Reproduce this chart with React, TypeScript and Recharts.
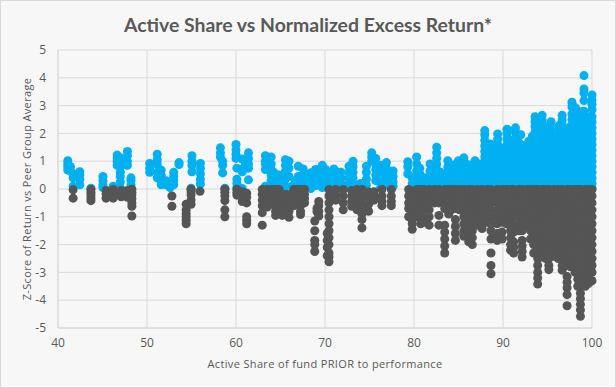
import { ScatterChart, Scatter, XAxis, YAxis, ZAxis, CartesianGrid } from "recharts";

// [active share, z-scores...]
const positiveColumns: number[][] = [
  [41.1, 1.02, 0.9, 0.8, 0.68],
  [41.4, 0.8, 0.65],
  [41.7, 0.55, 0.4, 0.1],
  [42.45, 0.62, 0.5, 0.35, 0.15],
  [43.7, 0.03],
  [45.05, 0.45, 0.3, 0.15, 0.05],
  [46.2, 0.1],
  [46.65, 1.22, 1.1, 1.0, 0.85],
  [47, 1.12, 0.95, 0.8, 0.6, 0.45, 0.25, 0.05],
  [47.8, 1.35, 1.2, 1.0, 0.85],
  [48.2, 0.4, 0.3, 0.15, 0.03],
  [50.3, 0.92, 0.75, 0.6],
  [51.15, 1.25, 1.05, 0.9, 0.6, 0.4],
  [51.6, 0.68, 0.5, 0.3, 0.15],
  [52.15, 0.3, 0.15],
  [52.6, 0.2, 0.05],
  [53, 0.6, 0.45, 0.3, 0.15],
  [53.6, 0.95, 0.88],
  [54.95, 0.03],
  [55.05, 1.2, 1.0, 0.85, 0.62],
  [56, 0.92, 0.75, 0.55, 0.35, 0.18],
  [58.25, 1.48, 1.3, 1.15],
  [58.5, 1.0, 0.85, 0.58],
  [58.75, 0.03],
  [60, 1.6, 1.4, 1.25, 1.1],
  [60.1, 0.75, 0.35, 0.2, 0.05],
  [60.7, 1.08, 0.72, 0.62, 0.02],
  [61.05, 0.92, 0.75],
  [61.4, 1.3, 1.1, 0.9, 0.75, 0.33],
  [63.3, 1.2, 1.0, 0.9, 0.7, 0.1],
  [63.95, 1.15, 0.9, 0.7, 0.5, 0.3, 0.1],
  [64.25, 0.6, 0.45, 0.3, 0.15],
  [64.8, 0.5, 0.35, 0.15],
  [65.2, 0.42, 0.25, 0.08],
  [65.55, 1.05, 0.85, 0.65, 0.5, 0.35, 0.1],
  [65.95, 1.0, 0.75, 0.45],
  [66.3, 0.1],
  [66.65, 0.3, 0.15, 0.05],
  [67, 0.82, 0.45, 0.3, 0.15, 0.05],
  [67.55, 0.72, 0.5, 0.35, 0.2],
  [68.4, 0.58, 0.35, 0.15, 0.02],
  [68.95, 0.7, 0.5, 0.3, 0.12],
  [69.7, 0.85, 0.65, 0.45, 0.25, 0.05],
  [70.05, 0.7, 0.5, 0.3, 0.1],
  [70.5, 0.58, 0.4, 0.2, 0.05],
  [71, 0.72, 0.5, 0.3, 0.1],
  [71.45, 0.6, 0.42, 0.2],
  [71.8, 0.6, 0.4, 0.2],
  [72.7, 0.82, 0.6, 0.4, 0.2, 0.05],
  [73.15, 1.0, 0.8, 0.6, 0.4, 0.2],
  [74, 0.2, 0.05],
  [74.65, 0.82, 0.6, 0.35, 0.15],
  [75.25, 1.3, 1.15, 1.0],
  [75.7, 1.1, 0.9, 0.7, 0.5, 0.3],
  [76.25, 0.85, 0.65, 0.45, 0.25, 0.05],
  [76.9, 0.95, 0.75, 0.55, 0.35, 0.15],
  [77.65, 0.65, 0.45, 0.25, 0.1],
  [79.3, 0.98, 0.8, 0.55],
  [79.8, 0.4, 0.2, 0.05],
  [80.3, 1.15, 0.9, 0.65, 0.45, 0.25, 0.05],
  [80.65, 0.75, 0.55, 0.35, 0.15],
  [81.2, 0.4, 0.2, 0.05],
  [81.8, 0.9, 0.65, 0.45, 0.25, 0.05],
  [82.55, 1.5, 1.3, 1.1, 0.9, 0.7, 0.5, 0.3, 0.1],
  [83, 0.6, 0.4, 0.2],
  [83.8, 1.02, 0.8, 0.6, 0.4, 0.2, 0.03],
  [84.2, 0.85, 0.65, 0.45, 0.25, 0.05],
  [84.65, 0.88, 0.65, 0.42, 0.2, 0.03],
  [85, 1.02, 0.8, 0.6, 0.4, 0.2],
  [85.6, 1.12, 0.9, 0.7, 0.5, 0.3, 0.1],
  [86, 0.88, 0.65, 0.45, 0.25, 0.05],
  [86.35, 0.85, 0.6, 0.4, 0.2],
  [86.85, 1.02, 0.8, 0.6, 0.4, 0.2, 0.03],
  [87.5, 0.9, 0.7, 0.5, 0.3, 0.1],
  [87.95, 2.1, 1.95, 1.75, 1.55, 1.35, 1.15, 0.95, 0.75, 0.55, 0.35, 0.15],
  [88.3, 1.55, 1.35, 1.15, 0.95, 0.75, 0.55, 0.35, 0.15],
  [88.6, 1.62, 1.4, 1.2, 1.0, 0.8, 0.6, 0.4, 0.2, 0.03],
  [89, 1.5, 1.3, 1.1, 0.9, 0.7, 0.5, 0.3, 0.1],
  [89.4, 1.98, 1.8, 1.6, 1.4, 1.2, 1.0, 0.8, 0.6, 0.4, 0.2, 0.03],
  [89.9, 1.45, 1.25, 1.05, 0.85, 0.65, 0.45, 0.25, 0.05],
  [90.45, 2.15, 2.0, 1.8, 1.6, 1.4, 1.2, 1.0, 0.8, 0.6, 0.4, 0.2],
  [90.9, 1.75, 1.55, 1.35, 1.15, 0.95, 0.75, 0.55, 0.35, 0.15],
  [91.4, 2.2, 2.05, 1.85, 1.65, 1.45, 1.25, 1.05, 0.85, 0.65, 0.45, 0.25, 0.05],
  [91.7, 1.9, 1.7, 1.5, 1.3, 1.1, 0.9, 0.7, 0.5, 0.3, 0.1],
  [92, 1.95, 1.6, 1.4, 1.2, 1.0, 0.8, 0.6, 0.4, 0.2, 0.03],
  [92.4, 1.55, 1.35, 1.15, 0.95, 0.75, 0.55, 0.35, 0.15],
  [92.9, 1.72, 1.5, 1.3, 1.1, 0.9, 0.7, 0.5, 0.3, 0.1],
  [93.3, 1.9, 1.7, 1.5, 1.3, 1.1, 0.9, 0.7, 0.5, 0.3, 0.1],
  [93.6, 2.6, 2.42, 2.25, 2.05, 1.85, 1.65, 1.45, 1.25, 1.05, 0.85, 0.65, 0.45, 0.25, 0.05],
  [94, 2.0, 1.8, 1.6, 1.4, 1.2, 1.0, 0.8, 0.6, 0.4, 0.2, 0.03],
  [94.4, 2.65, 2.48, 2.3, 2.1, 1.9, 1.7, 1.5, 1.3, 1.1, 0.9, 0.7, 0.5, 0.3, 0.1],
  [94.7, 2.2, 2.0, 1.8, 1.6, 1.4, 1.2, 1.0, 0.8, 0.6, 0.4, 0.2],
  [95, 2.25, 2.05, 1.85, 1.65, 1.45, 1.25, 1.05, 0.85, 0.65, 0.45, 0.25, 0.05],
  [95.4, 2.42, 2.2, 2.0, 1.8, 1.6, 1.4, 1.2, 1.0, 0.8, 0.6, 0.4, 0.2],
  [95.9, 1.85, 1.65, 1.45, 1.25, 1.05, 0.85, 0.65, 0.45, 0.25, 0.05],
  [96.3, 2.28, 2.1, 1.9, 1.7, 1.5, 1.3, 1.1, 0.9, 0.7, 0.5, 0.3, 0.1],
  [96.65, 2.65, 2.48, 2.3, 2.1, 1.9, 1.7, 1.5, 1.3, 1.1, 0.9, 0.7, 0.5, 0.3, 0.1],
  [97, 2.08, 1.85, 1.65, 1.45, 1.25, 1.05, 0.85, 0.65, 0.45, 0.25, 0.05],
  [97.4, 2.2, 2.0, 1.8, 1.6, 1.4, 1.2, 1.0, 0.8, 0.6, 0.4, 0.2],
  [97.75, 3.12, 2.95, 2.7, 2.5, 2.3, 2.1, 1.9, 1.7, 1.5, 1.3, 1.1, 0.9, 0.7, 0.5, 0.3, 0.1],
  [98.15, 2.92, 2.7, 2.5, 2.3, 2.1, 1.9, 1.7, 1.5, 1.3, 1.1, 0.9, 0.7, 0.5, 0.3, 0.1],
  [98.5, 2.4, 2.2, 2.0, 1.8, 1.6, 1.4, 1.2, 1.0, 0.8, 0.6, 0.4, 0.2],
  [98.85, 2.78, 2.6, 2.4, 2.2, 2.0, 1.8, 1.6, 1.4, 1.2, 1.0, 0.8, 0.6, 0.4, 0.2],
  [99.1, 4.08, 3.6, 3.45, 3.18, 2.8, 2.6, 2.4, 2.2, 2.0, 1.8, 1.6, 1.4, 1.2, 1.0, 0.8, 0.6, 0.4, 0.2],
  [99.45, 2.58, 2.4, 2.2, 2.0, 1.8, 1.6, 1.4, 1.2, 1.0, 0.8, 0.6, 0.4, 0.2],
  [99.7, 2.45, 2.25, 2.05, 1.85, 1.65, 1.45, 1.25, 1.05, 0.85, 0.65, 0.45, 0.25, 0.05],
  [100, 3.38, 3.2, 3.05, 2.85, 2.6, 2.4, 2.2, 2.0, 1.8, 1.6, 1.4, 1.2, 1.0, 0.8, 0.6, 0.4, 0.2, 0.03],
];

const negativeColumns: number[][] = [
  [41.7, -0.03, -0.33],
  [43.7, -0.02, -0.12, -0.22, -0.32, -0.42],
  [45.4, -0.05, -0.18, -0.33],
  [46.2, -0.02, -0.15, -0.33],
  [47.1, -0.05, -0.18, -0.28],
  [47.8, -0.05, -0.2, -0.3],
  [48.3, -0.01, -0.12, -0.22, -0.35, -0.5, -0.62, -0.97],
  [52.8, -0.25, -0.62],
  [54.4, -0.55, -0.75, -0.88, -1.0, -1.12, -1.25],
  [54.95, -0.01, -0.1, -0.22, -0.4, -0.55],
  [55.95, -0.08],
  [58.75, -0.01, -0.12, -0.25, -0.42, -0.75, -1.0],
  [60.1, -0.01, -0.12, -0.22],
  [60.7, -0.1, -0.3, -0.45],
  [61.2, -0.15, -0.3, -0.5, -1.0, -1.12, -1.25],
  [62.95, -0.02, -0.2, -0.4, -0.6, -0.85, -1.3],
  [63.5, -0.02, -0.15, -0.3, -0.5, -0.65],
  [64, -0.02, -0.2, -0.4, -0.55],
  [64.45, -0.02, -0.2, -0.4, -0.6, -0.8, -0.95],
  [64.85, -0.02, -0.2, -0.4, -0.6, -0.75],
  [65.2, -0.2, -0.4, -0.6, -0.8, -0.95],
  [65.6, -0.2, -0.4, -0.6, -0.8],
  [65.95, -0.2, -0.4, -0.6, -0.8, -1.02],
  [66.5, -0.02, -0.2, -0.4, -0.6],
  [66.9, -0.02, -0.2, -0.4],
  [67.25, -0.02, -0.2, -0.4, -0.6, -0.8, -0.92],
  [67.7, -0.02, -0.2, -0.35, -0.5],
  [68.85, -1.15, -1.5, -1.85, -2.0, -2.25],
  [69.1, -0.7, -0.82],
  [69.3, -0.45, -0.6, -0.8, -0.97],
  [70.25, -1.6, -1.85, -2.1, -2.4],
  [70.45, -0.02, -0.25, -0.5, -0.75, -1.0, -1.25, -1.5, -1.75, -2.0, -2.3, -2.45, -2.62],
  [71.2, -0.02, -0.2, -0.4],
  [72.05, -0.02, -0.25, -0.5, -0.75],
  [73, -0.05, -0.25, -0.45, -0.62],
  [73.6, -0.02, -0.25, -0.5, -0.75],
  [74.15, -0.02, -0.25, -0.5, -0.7, -0.9, -1.1, -1.4],
  [74.9, -0.1, -0.3, -0.55, -0.8],
  [75.5, -0.1, -0.25, -0.4],
  [76.4, -0.02, -0.25, -0.45, -0.6],
  [77.45, -0.02, -0.25, -0.45, -0.6],
  [79.4, -0.02, -0.25, -0.5, -0.7, -1.0],
  [79.8, -0.1, -0.35, -0.6, -0.85, -1.1, -1.25, -1.45],
  [80.3, -0.02, -0.25, -0.5, -0.75, -1.0],
  [80.75, -0.02, -0.25, -0.5, -0.75, -1.0, -1.25],
  [81.1, -0.02, -0.25, -0.5, -0.75, -1.05, -1.2],
  [81.7, -0.02, -0.25, -0.5, -0.75, -1.0, -1.3],
  [82.3, -0.02, -0.25, -0.5],
  [82.8, -0.02, -0.25, -0.5, -0.95, -1.3],
  [83.45, -0.02, -0.25, -0.5, -0.7, -1.3, -1.55, -1.8, -2.05, -2.3],
  [83.9, -0.02, -0.25, -0.5, -0.9],
  [84.2, -0.02, -0.25, -0.5, -0.75],
  [84.65, -0.02, -0.25, -0.5, -0.7, -1.1, -1.35, -1.6, -1.85],
  [85.1, -0.02, -0.25, -0.5, -0.75],
  [85.6, -0.02, -0.25, -0.5, -0.75, -1.0, -1.25, -1.5, -1.7],
  [86.15, -0.02, -0.25, -0.5, -0.75, -1.0, -1.25, -1.5, -1.75, -1.9],
  [86.55, -0.02, -0.25, -0.5, -0.75, -1.0, -1.25, -1.5, -1.75, -2.0],
  [87.1, -0.02, -0.25, -0.5, -0.75, -1.0, -1.3],
  [87.65, -0.02, -0.25, -0.5, -0.75, -1.0, -1.2, -1.42],
  [88.2, -0.02, -0.25, -0.5, -0.75, -1.0, -1.2],
  [88.65, -0.02, -0.25, -0.5, -0.75, -1.0, -1.25, -1.5, -1.8, -2.3, -2.75, -3.05],
  [89.35, -0.02, -0.25, -0.5, -0.75, -1.0, -1.25, -1.6, -1.85],
  [89.9, -0.02, -0.25, -0.5, -0.75, -1.0, -1.2, -1.55, -1.8],
  [90.4, -0.02, -0.25, -0.5, -0.75, -1.0, -1.25],
  [90.85, -0.02, -0.25, -0.5, -0.75, -1.0, -1.25, -1.5, -1.75, -2.0, -2.2],
  [91.2, -0.02, -0.25, -0.5, -0.75, -1.0, -1.3, -1.55, -1.9, -2.1, -2.3],
  [91.8, -0.02, -0.25, -0.5, -0.75, -1.0, -1.25, -1.5],
  [92.15, -0.02, -0.25, -0.5, -0.75, -1.0, -1.25, -1.5, -1.85, -2.05, -2.25, -2.45],
  [92.7, -0.02, -0.25, -0.5, -0.75, -1.0, -1.3],
  [93.1, -0.02, -0.25, -0.5, -0.75, -1.0, -1.25, -1.5, -1.8],
  [93.45, -0.02, -0.25, -0.5, -0.75, -1.0, -1.25, -1.5, -1.75, -2.0, -2.3],
  [93.9, -0.02, -0.25, -0.5, -0.75, -1.0, -1.25, -1.5, -1.75, -2.0, -2.25, -2.5, -2.75, -3.0, -3.2, -3.42],
  [94.4, -0.02, -0.25, -0.5, -0.75, -1.0, -1.25, -1.5, -1.75, -2.0, -2.25, -2.45],
  [94.8, -0.02, -0.25, -0.5, -0.75, -1.0, -1.25, -1.5, -1.75, -2.0, -2.25, -2.5],
  [95.15, -0.02, -0.25, -0.5, -0.75, -1.0, -1.25, -1.5, -1.75, -2.0, -2.25, -2.5, -2.75, -2.9],
  [95.7, -0.02, -0.25, -0.5, -0.75, -1.0, -1.25, -1.5, -1.75, -2.0, -2.25, -2.42],
  [96.2, -0.02, -0.25, -0.5, -0.75, -1.0, -1.25, -1.5, -1.75, -2.0, -2.25, -2.5],
  [96.65, -0.02, -0.25, -0.5, -0.75, -1.0, -1.25, -1.5, -1.75, -2.0, -2.25, -2.5, -2.75, -2.92],
  [97.2, -0.02, -0.25, -0.5, -0.75, -1.0, -1.25, -1.5, -1.75, -2.0, -2.25, -2.5, -2.75, -3.15, -3.35, -3.55, -3.8, -4.2],
  [97.6, -0.02, -0.25, -0.5, -0.75, -1.0, -1.25, -1.5, -1.75, -2.0, -2.3, -2.6, -2.8],
  [98.1, -0.02, -0.25, -0.5, -0.75, -1.0, -1.25, -1.5, -1.75, -2.0, -2.25, -2.5, -2.75, -3.0],
  [98.4, -0.02, -0.25, -0.5, -0.75, -1.0, -1.25, -1.5, -1.75, -2.0, -2.25, -2.5, -2.75, -3.0, -3.25, -3.5],
  [98.7, -0.02, -0.25, -0.5, -0.75, -1.0, -1.25, -1.5, -1.75, -2.0, -2.25, -2.5, -2.75, -3.0, -3.25, -3.5, -3.75, -3.95, -4.15, -4.35, -4.58],
  [99.25, -0.02, -0.25, -0.5, -0.75, -1.0, -1.25, -1.5, -1.75, -2.0, -2.25, -2.5, -2.75, -3.0, -3.25, -3.5],
  [99.6, -0.02, -0.25, -0.5, -0.75, -1.0, -1.25, -1.5, -1.75, -2.0, -2.25, -2.5, -2.75, -3.0, -3.25, -3.4],
  [100, -0.02, -0.25, -0.5, -0.75, -1.0, -1.25, -1.5, -1.75, -2.0, -2.25, -2.5, -2.75, -3.0, -3.3],
];

const xTicks = [40, 50, 60, 70, 80, 90, 100];
const yTicks = [-5, -4, -3, -2, -1, 0, 1, 2, 3, 4, 5];

const toPoints = (columns: number[][]) =>
  columns.flatMap(([share, ...scores]) => scores.map(score => ({ share, score })));

const axisFont = { fontSize: 12, fill: "#595959", fontFamily: "'Open Sans', sans-serif" };
const titleFont = { ...axisFont, fontSize: 11, letterSpacing: 0.35 };

export default function App() {
  return (
    <div
      style={{
        position: "absolute",
        left: 0,
        top: 0,
        width: 616,
        height: 388,
        boxSizing: "border-box",
        background: "#f7f7f7",
        border: "1px solid #d9d9d9",
      }}
    >
      <div
        style={{
          position: "absolute",
          left: 0,
          width: 614,
          top: 12,
          textAlign: "center",
          fontFamily: "Lato, sans-serif",
          fontWeight: 700,
          fontSize: 19.4,
          color: "#595959",
        }}
      >
        Active Share vs Normalized Excess Return*
      </div>
      <div style={{ position: "absolute", left: -1, top: -1 }}>
        <ScatterChart
          width={616}
          height={388}
          margin={{ top: 50, right: 24, bottom: 30, left: 18 }}
        >
          <CartesianGrid stroke="#d9d9d9" strokeWidth={1} horizontalValues={yTicks} verticalValues={xTicks} />
          <XAxis
            type="number"
            dataKey="share"
            domain={[40, 100]}
            ticks={xTicks}
            height={30}
            axisLine={{ stroke: "#d9d9d9" }}
            tickLine={false}
            tick={axisFont}
            tickMargin={4}
            label={{
              value: "Active Share of fund PRIOR to performance",
              position: "insideBottom",
              offset: -10,
              style: titleFont,
            }}
          />
          <YAxis
            type="number"
            dataKey="score"
            domain={[-5, 5]}
            ticks={yTicks}
            width={40}
            axisLine={{ stroke: "#d9d9d9" }}
            tickLine={false}
            tick={axisFont}
            tickMargin={6}
            label={{
              value: "Z-Score of Return vs Peer Group Average",
              angle: -90,
              position: "center",
              dx: -11,
              style: titleFont,
            }}
          />
          <ZAxis range={[40, 40]} />
          <Scatter data={toPoints(positiveColumns)} fill="#00b0f0" isAnimationActive={false} />
          <Scatter data={toPoints(negativeColumns)} fill="#555555" isAnimationActive={false} />
        </ScatterChart>
      </div>
    </div>
  );
}
